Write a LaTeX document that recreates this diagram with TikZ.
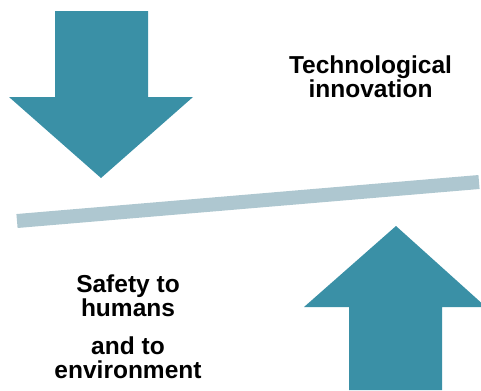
\documentclass[tikz,border=0pt]{standalone}
\usepackage{fontspec}
\setmainfont{Liberation Sans}
\definecolor{teal}{HTML}{3A90A6}
\definecolor{beam}{HTML}{AEC7D0}

\begin{document}
\begin{tikzpicture}[x=1bp, y=-1bp,
	lbl/.style={font=\bfseries\fontsize{24.6}{24}\selectfont, align=center}]
			\useasboundingbox (0,0) rectangle (481,390);
			% down arrow
			\fill[teal] (55,11) -- (148,11) -- (148,97) -- (193,97) -- (101,178)
				-- (9,97) -- (55,97) -- cycle;
			% tilted beam
			\draw[beam, line width=14bp] (17,221) -- (479,182);
			% up arrow
			\fill[teal] (349,390) -- (349,307) -- (304,307) -- (396,226)
				-- (486,307) -- (442,307) -- (442,390) -- cycle;
			\node[lbl] (tech) at (370.5,77) {Technological\\innovation};
			\node[lbl] (safety) at (128,296) {Safety to\\humans};
			\node[lbl] (env) at (128,358) {and to\\environment};
			\end{tikzpicture}
\end{document}
